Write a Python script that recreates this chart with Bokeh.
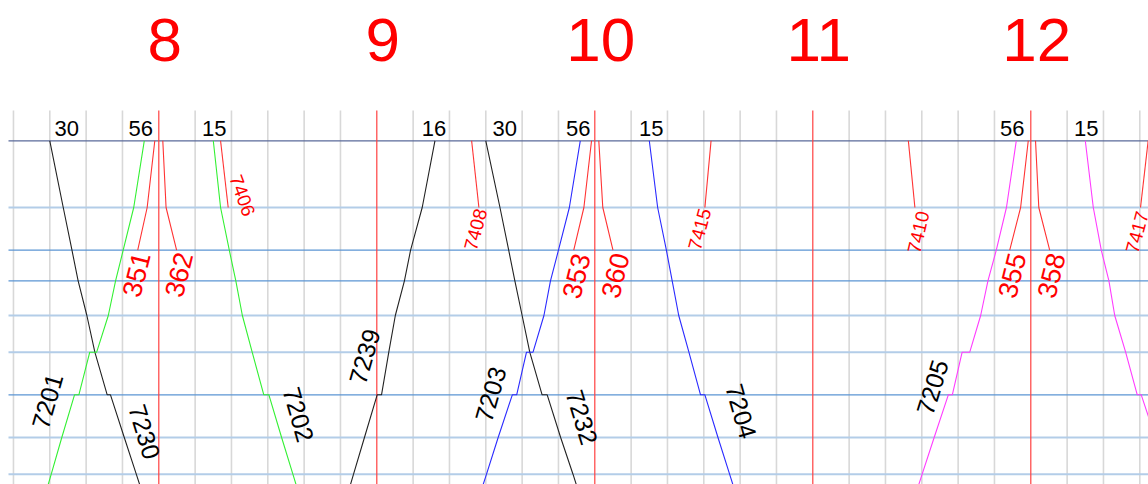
from bokeh.plotting import figure
from bokeh.models import Range1d, ColumnDataSource
from bokeh.embed import file_html
from bokeh.resources import INLINE
from bokeh.core.properties import value

# ---------------- data ----------------
# station positions (distance from the top station, arbitrary km units); last one lies below the view
STATION_KM = [0.0, 6.67, 10.94, 14.0, 17.47, 21.14, 25.4, 29.67, 33.34, 37.0]
STATION_KIND = ["top", "minor", "major", "major", "minor", "minor", "major", "minor", "minor", "minor"]

HOURS = [8, 9, 10, 11, 12]

# trains: station indices and times (H:MM.m)
T7230_ST = [0, 1, 2, 3, 4, 5, 6, 6, 7, 8, 9]
T7230_TM = ["7:30", "7:33.7", "7:36.1", "7:37.8", "7:40.2", "7:42.4", "7:45.8", "7:46.7", "7:50.5", "7:53.8", "7:57.1"]
T7201_ST = [9, 8, 7, 6, 6, 5, 5, 4, 3, 2, 1, 0]
T7201_TM = ["7:27.4", "7:30.4", "7:33.3", "7:36.8", "7:38.0", "7:41.0", "7:42.9", "7:46.1", "7:48.1", "7:50.2", "7:53.1", "7:56"]
T351_ST = [2, 1, 0]
T351_TM = ["7:54.2", "7:56.8", "7:58.9"]
T362_ST = [0, 1, 2]
T362_TM = ["8:01.1", "8:02.0", "8:04.9"]
T7202_ST = [0, 1, 2, 3, 4, 5, 6, 6, 7, 8, 9]
T7202_TM = ["8:15", "8:17.0", "8:19.4", "8:21.2", "8:23.0", "8:25.7", "8:28.9", "8:30.3", "8:33.8", "8:36.9", "8:40.0"]
T7406_ST = [0, 1]
T7406_TM = ["8:17.0", "8:19.1"]
T7239_ST = [9, 8, 7, 6, 6, 5, 4, 3, 2, 1, 0]
T7239_TM = ["8:50.6", "8:53.6", "8:56.6", "9:00.1", "9:01.3", "9:03.3", "9:05.1", "9:07.6", "9:09.3", "9:12.5", "9:16"]
T7408_ST = [0, 1]
T7408_TM = ["9:26.1", "9:28.1"]
T7232_ST = [0, 1, 2, 3, 4, 5, 6, 6, 7, 8, 9]
T7232_TM = ["9:30", "9:33.9", "9:36.3", "9:38.0", "9:40.0", "9:42.1", "9:45.5", "9:46.9", "9:50.6", "9:54.0", "9:57.2"]
T7203_ST = [9, 8, 7, 6, 6, 5, 5, 4, 3, 2, 1, 0]
T7203_TM = ["9:26.9", "9:30.2", "9:33.4", "9:37.3", "9:38.5", "9:41.2", "9:43.0", "9:46.0", "9:47.8", "9:50.0", "9:53.0", "9:56"]
T353_ST = [2, 1, 0]
T353_TM = ["9:54.2", "9:57.0", "9:59.1"]
T360_ST = [0, 1, 2]
T360_TM = ["10:01.1", "10:02.2", "10:05.0"]
T7204_ST = [0, 1, 2, 3, 4, 5, 6, 6, 7, 8, 9]
T7204_TM = ["10:15", "10:17.3", "10:19.7", "10:21.3", "10:23.1", "10:25.9", "10:29.1", "10:30.3", "10:33.9", "10:37.1", "10:40.3"]
T7415_ST = [1, 0]
T7415_TM = ["10:30.3", "10:32.0"]
T7410_ST = [0, 1]
T7410_TM = ["11:26.3", "11:28.1"]
T7205_ST = [9, 8, 7, 6, 6, 5, 5, 4, 3, 2, 1, 0]
T7205_TM = ["11:26.8", "11:30.1", "11:33.4", "11:37.3", "11:38.4", "11:41.1", "11:43.2", "11:46.2", "11:48.2", "11:50.5", "11:53.3", "11:56"]
T355_ST = [2, 1, 0]
T355_TM = ["11:54.2", "11:57.2", "11:59.3"]
T358_ST = [0, 1, 2]
T358_TM = ["12:01.3", "12:02.2", "12:05.2"]
T7206_ST = [0, 1, 2, 3, 4, 5, 6, 6, 7, 8, 9]
T7206_TM = ["12:15", "12:17.2", "12:19.4", "12:21.5", "12:23.1", "12:26.1", "12:29.3", "12:30.4", "12:34.3", "12:37.5", "12:40.7"]
T7417_ST = [1, 0]
T7417_TM = ["12:30.2", "12:32.3"]

# ---------------- styles ----------------
BLACK = "#222222"
GREEN = "#33f033"
BLUE = "#2a2aff"
MAGENTA = "#ff3cff"
RED = "#ff3333"
LABEL_RED = "#ff0000"

# (name, stations, times, colour, label style, label time, label km, label angle, top-label offset px)
TRAINS = [
    ("7230", T7230_ST, T7230_TM, BLACK, "big", "7:56.1", 29.1, -73, 17),
    ("7201", T7201_ST, T7201_TM, GREEN, "big", "7:29.3", 26.04, 74, -3.5),
    ("351", T351_ST, T351_TM, RED, "red", "7:53.8", 13.39, 76, None),
    ("362", T362_ST, T362_TM, RED, "red", "8:05.5", 13.39, 76, None),
    ("7202", T7202_ST, T7202_TM, GREEN, "big", "8:38.5", 27.37, -74, 1),
    ("7406", T7406_ST, T7406_TM, RED, "small", "8:23.0", 5.47, -70, None),
    ("7239", T7239_ST, T7239_TM, BLACK, "big", "8:56.6", 21.57, 74, -1),
    ("7408", T7408_ST, T7408_TM, RED, "small", "9:27.2", 8.87, 75, None),
    ("7232", T7232_ST, T7232_TM, BLACK, "big", "9:56.5", 27.64, -73, 19),
    ("7203", T7203_ST, T7203_TM, BLUE, "big", "9:31.3", 25.34, 74, -2),
    ("353", T353_ST, T353_TM, RED, "red", "9:54.9", 13.52, 76, None),
    ("360", T360_ST, T360_TM, RED, "red", "10:05.6", 13.47, 76, None),
    ("7204", T7204_ST, T7204_TM, BLUE, "big", "10:40.3", 27.04, -74, 2),
    ("7415", T7415_ST, T7415_TM, RED, "small", "10:28.9", 8.84, 75, None),
    ("7410", T7410_ST, T7410_TM, RED, "small", "11:29.1", 9.14, 77, None),
    ("7205", T7205_ST, T7205_TM, MAGENTA, "big", "11:32.9", 24.64, 73, -4),
    ("355", T355_ST, T355_TM, RED, "red", "11:54.8", 13.47, 76, None),
    ("358", T358_ST, T358_TM, RED, "red", "12:05.6", 13.47, 76, None),
    ("7206", T7206_ST, T7206_TM, MAGENTA, None, None, None, None, 1),
    ("7417", T7417_ST, T7417_TM, RED, "small", "12:29.3", 9.14, 75, None),
]


def tmin(s):
    h, m = s.split(":")
    return int(h) * 60 + float(m)


PX_PER_MIN = 218.0 / 60.0
PX_PER_KM = 10.0
W, H = 1148, 484
X0 = tmin("8:00") - 158.3 / PX_PER_MIN
Y0 = -140.3 / PX_PER_KM

p = figure(width=W, height=H, output_backend="svg", toolbar_location=None,
           x_range=Range1d(X0, X0 + W / PX_PER_MIN),
           y_range=Range1d(Y0 + H / PX_PER_KM, Y0),
           x_axis_type=None, y_axis_type=None, min_border=0,
           outline_line_color=None, background_fill_color="white")
p.xgrid.visible = False
p.ygrid.visible = False

grid_top = Y0 + 110 / PX_PER_KM
grid_bottom = Y0 + H / PX_PER_KM + 1

# 10-minute grey lines
ten = [t for t in range(440, 760, 10) if t % 60 != 0]
p.segment(x0=ten, x1=ten, y0=[grid_top] * len(ten), y1=[grid_bottom] * len(ten),
          line_color="#d8d8d8", line_width=1.6)

# station lines
x_left = X0 + 8 / PX_PER_MIN
x_right = X0 + W / PX_PER_MIN + 5
kind_style = {"top": ("#5a6a9a", 1.2), "major": ("#5b95d3", 1.2), "minor": ("#b3cde8", 2.0)}
for km, kind in zip(STATION_KM, STATION_KIND):
    c, w = kind_style[kind]
    p.segment(x0=[x_left], x1=[x_right], y0=[km], y1=[km], line_color=c, line_width=w)

# hour lines
hx = [h * 60 for h in HOURS]
p.segment(x0=hx, x1=hx, y0=[grid_top] * len(hx), y1=[grid_bottom] * len(hx),
          line_color="#ff4040", line_width=1.2)

# hour labels
p.text(x=hx, y=[Y0 + 39.0 / PX_PER_KM] * len(hx), text=[str(h) for h in HOURS],
       text_font=value("Liberation Sans"), text_font_size="62px", text_color=LABEL_RED,
       text_align="center", text_baseline="alphabetic", x_offset=6)

# trains
lab = {"big": dict(x=[], y=[], text=[], angle=[]),
       "red": dict(x=[], y=[], text=[], angle=[]),
       "small": dict(x=[], y=[], text=[], angle=[])}
top = dict(x=[], y=[], text=[], dx=[])
for name, st, tm, col, lstyle, lt, lk, la, toff in TRAINS:
    xs = [tmin(t) for t in tm]
    ys = [STATION_KM[s] for s in st]
    p.line(xs, ys, line_color=col, line_width=1.1)
    if lstyle:
        d = lab[lstyle]
        d["x"].append(tmin(lt)); d["y"].append(lk); d["text"].append(name); d["angle"].append(la)
    if toff is not None:
        t0 = xs[st.index(0)]
        top["x"].append(t0); top["y"].append(Y0 + 127.5 / PX_PER_KM)
        top["text"].append(str(int(round(t0)) % 60)); top["dx"].append(toff)

p.text(x="x", y="y", text="text", angle="angle", angle_units="deg", source=ColumnDataSource(lab["big"]),
       text_font=value("Liberation Sans"), text_font_size="25px", text_color="#000000",
       text_align="center", text_baseline="middle")
p.text(x="x", y="y", text="text", angle="angle", angle_units="deg", source=ColumnDataSource(lab["red"]),
       text_font=value("Liberation Sans"), text_font_size="27px", text_color=LABEL_RED,
       text_align="center", text_baseline="middle")
p.text(x="x", y="y", text="text", angle="angle", angle_units="deg", source=ColumnDataSource(lab["small"]),
       text_font=value("Liberation Sans"), text_font_size="19px", text_color=LABEL_RED,
       text_align="center", text_baseline="middle")
p.text(x="x", y="y", text="text", x_offset="dx", source=ColumnDataSource(top),
       text_font=value("Liberation Sans"), text_font_size="22px", text_color="#000000",
       text_align="center", text_baseline="alphabetic")

open("out.html", "w").write(file_html(p, INLINE))
